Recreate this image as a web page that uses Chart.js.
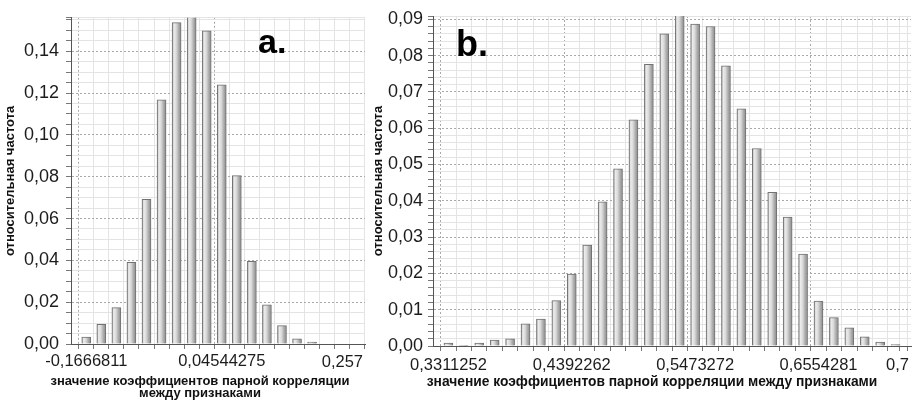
<!DOCTYPE html>
<html>
<head>
<meta charset="utf-8">
<script src="https://cdn.jsdelivr.net/npm/chart.js@4.4.1/dist/chart.umd.min.js"></script>
<style>
  html, body { margin: 0; padding: 0; background: #ffffff; }
  body { width: 915px; height: 401px; position: relative; overflow: hidden; }
  .panel { position: absolute; top: 0; height: 401px; }
  #wrapA { left: 0; width: 370px; }
  #wrapB { left: 368px; width: 547px; }
</style>
</head>
<body>
<div id="wrapA" class="panel"><canvas id="chartA"></canvas></div>
<div id="wrapB" class="panel"><canvas id="chartB"></canvas></div>
<script>
// ---- panel a: relative frequency per histogram bin ----
const freqA = [0.0033, 0.0094, 0.0174, 0.0390, 0.0692, 0.1168, 0.1537, 0.1580, 0.1498, 0.1239,
               0.0805, 0.0395, 0.0187, 0.0088, 0.0025, 0.0009, 0, 0, 0];
const xTickLabelsA = ['-0,1666811', '0,04544275'];
const xTickBinsA = [0, 9];
const xEndLabelA = '0,257';
const yTickValuesA = [0, 0.02, 0.04, 0.06, 0.08, 0.10, 0.12, 0.14];
const yTickLabelsA = ['0,00', '0,02', '0,04', '0,06', '0,08', '0,10', '0,12', '0,14'];

// ---- panel b ----
const freqB = [0.0008, 0.0002, 0.0008, 0.0016, 0.0020, 0.0061, 0.0074, 0.0125, 0.0198, 0.0278,
               0.0397, 0.0488, 0.0623, 0.0776, 0.0860, 0.0912, 0.0887, 0.0880, 0.0772, 0.0653,
               0.0544, 0.0423, 0.0355, 0.0253, 0.0124, 0.0078, 0.0050, 0.0025, 0.0011, 0.0004];
const xTickLabelsB = ['0,3311252', '0,4392262', '0,5473272', '0,6554281'];
const xTickBinsB = [0, 8, 16, 24];
const xEndLabelB = '0,7';
const yTickValuesB = [0, 0.01, 0.02, 0.03, 0.04, 0.05, 0.06, 0.07, 0.08, 0.09];
const yTickLabelsB = ['0,00', '0,01', '0,02', '0,03', '0,04', '0,05', '0,06', '0,07', '0,08', '0,09'];

const yTitle = 'относительная частота';
const xTitleA = ['значение коэффициентов парной корреляции', 'между признаками'];
const xTitleB = 'значение коэффициентов парной корреляции между признаками';

const SANS = "'Liberation Sans', Arial, sans-serif";
const GRID_MINOR = '#e4e4e4';
const GRID_MAJOR = '#a9a9a9';
const TEXT = '#1c1c1c';

function near(a, b) { return Math.abs(a - b) < 1e-9; }

// cylindrical grey fill for each bar, built around the bar's pixel centre
function barFill(ctx) {
  const chart = ctx.chart;
  const xs = chart.scales.x;
  if (!xs || !ctx.parsed) return '#c8c8c8';
  const cx = xs.getPixelForValue(ctx.parsed.x);
  if (!Number.isFinite(cx)) return '#c8c8c8';
  const g = chart.ctx.createLinearGradient(cx - 4.5, 0, cx + 4.5, 0);
  g.addColorStop(0, '#9c9c9c');
  g.addColorStop(0.2, '#ececec');
  g.addColorStop(0.45, '#dadada');
  g.addColorStop(0.75, '#a9a9a9');
  g.addColorStop(1, '#8c8c8c');
  return g;
}

// captions drawn on the canvas: panel letter, axis-end label, x-axis title
const captionPlugin = {
  id: 'captions',
  afterDraw(chart, args, o) {
    const c = chart.ctx;
    const area = chart.chartArea;
    c.save();
    c.fillStyle = '#000';
    c.font = 'bold ' + o.letterSize + 'px ' + SANS;
    c.textAlign = 'left';
    c.textBaseline = 'alphabetic';
    c.fillText(o.letter, o.letterX, o.letterY);

    c.fillStyle = TEXT;
    c.font = o.tickSize + 'px ' + SANS;
    c.textAlign = 'right';
    c.textBaseline = 'middle';
    c.fillText(o.endLabel, area.right - 2, o.tickY);

    c.fillStyle = '#111';
    c.font = 'bold ' + o.titleSize + 'px ' + SANS;
    c.textAlign = 'center';
    c.textBaseline = 'middle';
    o.title.forEach((line, i) => c.fillText(line, o.titleX, o.titleY + i * o.titleGap));
    c.restore();
  }
};

function makeChart(canvasId, cfg) {
  const isMajorY = v => cfg.yTickValues.some(m => near(m, v));
  const isMajorX = v => cfg.xTickBins.includes(v);
  return new Chart(document.getElementById(canvasId), {
    type: 'bar',
    data: {
      datasets: [{
        data: cfg.freq.map((v, i) => ({ x: i, y: v })),
        backgroundColor: barFill,
        borderColor: '#727272',
        borderWidth: 1,
        barThickness: 9
      }]
    },
    options: {
      responsive: true,
      maintainAspectRatio: false,
      animation: false,
      events: [],
      layout: { padding: cfg.padding },
      plugins: {
        legend: { display: false },
        tooltip: { enabled: false },
        captions: cfg.captions
      },
      scales: {
        x: {
          type: 'linear',
          min: -0.5,
          max: cfg.xMax,
          afterBuildTicks(s) {
            const t = cfg.freq.map((_, i) => ({ value: i }));
            if (cfg.xMax > cfg.freq.length - 1) t.push({ value: cfg.xMax });
            s.ticks = t;
          },
          ticks: {
            autoSkip: false,
            maxRotation: 0,
            padding: cfg.xTickPad,
            color: TEXT,
            font: { family: SANS, size: cfg.xTickSize },
            callback(v) {
              const k = cfg.xTickBins.indexOf(v);
              return k >= 0 ? cfg.xTickLabels[k] : '';
            }
          },
          grid: {
            color: c => (c.tick && isMajorX(c.tick.value)) ? GRID_MAJOR : GRID_MINOR,
            tickColor: '#777',
            tickLength: 5,
            lineWidth: 1
          },
          border: {
            color: '#555',
            width: 1,
            dash: c => (c.tick && isMajorX(c.tick.value)) ? [2, 2] : []
          },
          afterFit(s) { s.height = cfg.xAxisHeight; }
        },
        y: {
          min: 0,
          max: cfg.yMax,
          afterBuildTicks(s) {
            const t = [];
            for (let k = 0; k * cfg.yMinor <= cfg.yMax + 1e-9; k++) t.push({ value: +(k * cfg.yMinor).toFixed(4) });
            if (!near(t[t.length - 1].value, cfg.yMax)) t.push({ value: cfg.yMax });
            s.ticks = t;
          },
          ticks: {
            autoSkip: false,
            padding: cfg.yTickPad,
            color: TEXT,
            font: { family: SANS, size: cfg.yTickSize },
            callback(v) {
              const k = cfg.yTickValues.findIndex(m => near(m, v));
              return k >= 0 ? cfg.yTickLabels[k] : '';
            }
          },
          grid: {
            color: c => (c.tick && isMajorY(c.tick.value)) ? GRID_MAJOR : GRID_MINOR,
            tickColor: '#777',
            tickLength: 5,
            lineWidth: 1
          },
          border: {
            color: '#555',
            width: 1,
            dash: c => (c.tick && isMajorY(c.tick.value)) ? [2, 2] : []
          },
          title: {
            display: true,
            text: yTitle,
            color: '#111',
            font: { family: SANS, size: 13, weight: 'bold' },
            padding: { top: 3, bottom: 0 }
          },
          afterFit(s) { s.width = cfg.yAxisWidth; }
        }
      }
    },
    plugins: [captionPlugin]
  });
}

makeChart('chartA', {
  freq: freqA,
  xTickLabels: xTickLabelsA, xTickBins: xTickBinsA,
  yTickValues: yTickValuesA, yTickLabels: yTickLabelsA,
  xMax: 18, yMax: 0.156, yMinor: 0.005,
  xTickSize: 16.5, yTickSize: 18, xTickPad: 3, yTickPad: 7,
  xAxisHeight: 57, yAxisWidth: 71,
  padding: { top: 13, right: 5, left: 0, bottom: 0 },
  captions: {
    letter: 'a.', letterSize: 34, letterX: 258, letterY: 53,
    endLabel: xEndLabelA, tickSize: 16.5, tickY: 362,
    title: xTitleA, titleSize: 13, titleX: 200, titleY: 381, titleGap: 12
  }
});

makeChart('chartB', {
  freq: freqB,
  xTickLabels: xTickLabelsB, xTickBins: xTickBinsB,
  yTickValues: yTickValuesB, yTickLabels: yTickLabelsB,
  xMax: 29.5, yMax: 0.0909, yMinor: 0.002,
  xTickSize: 16.5, yTickSize: 18, xTickPad: 5, yTickPad: 5,
  xAxisHeight: 55, yAxisWidth: 65,
  padding: { top: 16, right: 4, left: 0, bottom: 0 },
  captions: {
    letter: 'b.', letterSize: 36, letterX: 88, letterY: 56,
    endLabel: xEndLabelB, tickSize: 16.5, tickY: 365.5,
    title: [xTitleB], titleSize: 13.8, titleX: 284, titleY: 382.5, titleGap: 0
  }
});
</script>
</body>
</html>
